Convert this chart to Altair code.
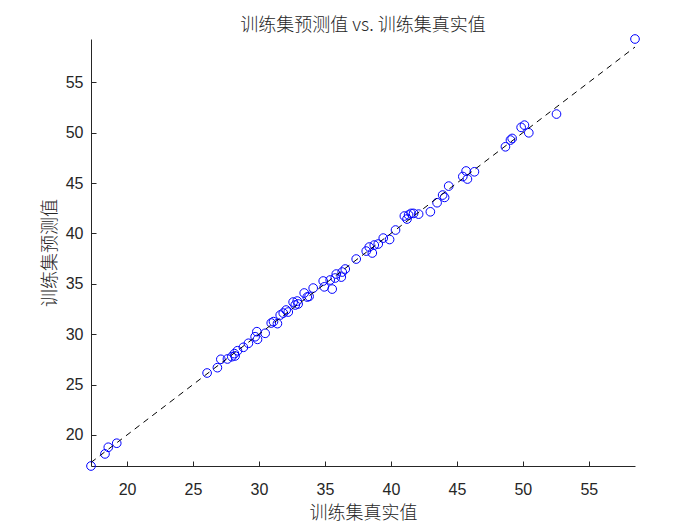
import altair as alt
import pandas as pd

# Training set true values (x) and predicted values (y)
true_vals = [17.27, 18.33, 18.58, 19.22, 26.07, 26.85, 27.11, 27.61, 27.94, 28.14,
             28.19, 28.37, 28.82, 29.20, 29.71, 29.84, 29.89, 30.47, 30.93, 31.10,
             31.40, 31.61, 31.84, 32.06, 32.22, 32.59, 32.75, 32.90, 32.97, 33.43,
             33.66, 33.80, 34.11, 34.87, 34.95, 35.40, 35.55, 35.78, 35.86, 36.24,
             36.31, 36.54, 37.37, 38.13, 38.36, 38.59, 38.74, 39.04, 39.42, 39.90,
             40.35, 41.02, 41.22, 41.34, 41.53, 41.72, 42.10, 42.99, 43.50, 43.92,
             44.07, 44.38, 45.45, 45.70, 45.80, 46.33, 48.68, 49.06, 49.19, 49.87,
             50.12, 50.45, 52.55, 58.50]
pred_vals = [16.92, 18.12, 18.78, 19.18, 26.15, 26.68, 27.51, 27.54, 27.77, 28.07,
             27.84, 28.36, 28.70, 29.10, 29.75, 30.25, 29.49, 30.09, 31.11, 31.25,
             31.05, 31.90, 32.10, 32.40, 32.20, 33.19, 32.90, 33.29, 33.00, 34.09,
             33.69, 33.75, 34.58, 35.28, 34.70, 35.38, 34.48, 35.58, 35.97, 35.67,
             36.17, 36.47, 37.46, 38.25, 38.65, 38.06, 38.85, 38.95, 39.54, 39.40,
             40.34, 41.73, 41.43, 41.83, 41.99, 41.99, 41.92, 42.15, 43.05, 43.81,
             43.58, 44.70, 45.65, 46.20, 45.40, 46.12, 48.60, 49.27, 49.43, 50.53,
             50.75, 49.99, 51.85, 59.30]
tick_vals = [20, 25, 30, 35, 40, 45, 50, 55]

title_text = "训练集预测值 vs. 训练集真实值"
x_title = "训练集真实值"
y_title = "训练集预测值"

pts = pd.DataFrame({"t": true_vals, "p": pred_vals})
lo, hi = min(true_vals), max(true_vals)
line_df = pd.DataFrame({"t": [lo, hi], "p": [lo, hi]})

x_dom = [min(true_vals), max(true_vals)]
y_dom = [min(pred_vals), max(pred_vals)]

AX = "#262626"
CJK = "Noto Sans CJK SC"
LAT = "Liberation Sans"

xs = alt.Scale(domain=x_dom, nice=False, zero=False)
ys = alt.Scale(domain=y_dom, nice=False, zero=False)

main_x_axis = alt.Axis(values=tick_vals, grid=False, ticks=False, domainColor=AX,
                       labelColor=AX, labelFont=LAT, labelFontSize=16, labelPadding=15,
                       title=x_title, titleFont=CJK, titleFontSize=18, titleFontWeight=300,
                       titleColor=AX, titlePadding=7, labelFlush=False)
main_y_axis = alt.Axis(values=tick_vals, grid=False, ticks=False, domainColor=AX,
                       labelColor=AX, labelFont=LAT, labelFontSize=16, labelPadding=8,
                       title=y_title, titleFont=CJK, titleFontSize=18, titleFontWeight=300,
                       titleColor=AX, titlePadding=6, labelFlush=False)

tick_x_axis = alt.Axis(values=tick_vals, grid=False, domain=False, labels=False, ticks=True,
                       tickSize=5, tickColor=AX, offset=-5, title=None, orient="bottom")
tick_y_axis = alt.Axis(values=tick_vals, grid=False, domain=False, labels=False, ticks=True,
                       tickSize=5, tickColor=AX, offset=-5, title=None, orient="left")

points = alt.Chart(pts).mark_point(shape="circle", filled=False, color="#0000FF",
                                   size=75, strokeWidth=1, opacity=1).encode(
    x=alt.X("t:Q", scale=xs, axis=main_x_axis),
    y=alt.Y("p:Q", scale=ys, axis=main_y_axis),
)

diag = alt.Chart(line_df).mark_line(color="black", strokeDash=[6, 5], strokeWidth=1).encode(
    x=alt.X("t:Q", scale=xs, axis=tick_x_axis),
    y=alt.Y("p:Q", scale=ys, axis=tick_y_axis),
)

chart = alt.layer(points, diag).resolve_axis(x="independent", y="independent").properties(
    width=544, height=427,
    title=alt.TitleParams(title_text, font=CJK, fontSize=18, fontWeight=300,
                          color=AX, anchor="middle", offset=-2),
    autosize=alt.AutoSizeParams(type="none"),
    padding={"left": 83, "top": 31, "right": 57, "bottom": 58},
).configure_view(stroke=None)

chart.save("out.html", embed_options={"renderer": "svg", "actions": False})
